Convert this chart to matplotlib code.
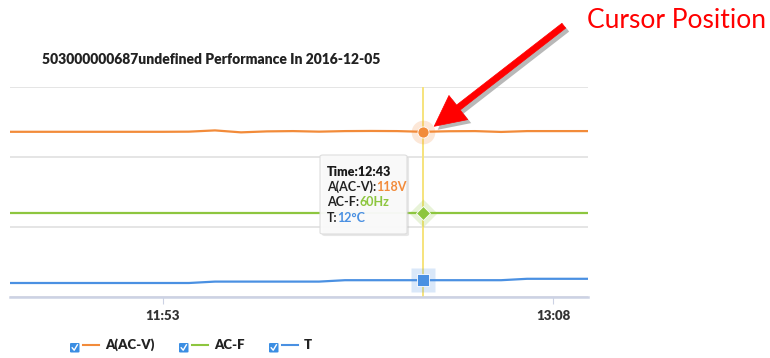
import matplotlib
matplotlib.use("Agg")
import matplotlib.pyplot as plt
import matplotlib.patheffects as pe
from matplotlib.patches import FancyBboxPatch, FancyArrowPatch
from matplotlib.lines import Line2D
from matplotlib.ticker import FixedLocator, FuncFormatter

plt.rcParams['font.family'] = ['Lato', 'DejaVu Sans']

# readings every 5 minutes
times = ["11:23", "11:28", "11:33", "11:38", "11:43", "11:48", "11:53", "11:58",
         "12:03", "12:08", "12:13", "12:18", "12:23", "12:28", "12:33", "12:38",
         "12:43", "12:48", "12:53", "12:58", "13:03", "13:08", "13:13", "13:18"]
volts = [118, 118, 118, 118, 118, 118, 118, 118.1,
         119, 117.6, 118.3, 118.5, 118.1, 118.5, 118.6, 118.5,
         118, 118.4, 118.5, 117.9, 118.5, 118.5, 118.5, 118.5]
freq = [60] * 24
temp = [10, 10, 10, 10, 10, 10, 10, 10,
        11, 11, 11, 11, 11, 12, 12, 12,
        12, 12, 12, 12, 13, 13, 13, 13]
tick_times = ["11:53", "13:08"]
cursor_time = "12:43"

series = [("A(AC-V)", volts, "#f28b3a", "o", "V"),
          ("AC-F", freq, "#8dc63f", "D", "Hz"),
          ("T", temp, "#4a90e2", "s", "°C")]

W, H = 770, 358


def to_min(s):
    h, m = s.split(":")
    return int(h) * 60 + int(m)


def fmt_min(v, pos=None):
    v = int(round(v))
    return "%d:%02d" % (v // 60, v % 60)


def px(x, y):
    return x / W, 1 - y / H


x = [to_min(t) for t in times]

fig = plt.figure(figsize=(W / 100, H / 100), dpi=100)
ax = fig.add_axes([10 / W, 1 - 297 / H, 578 / W, 210 / H])

for name, vals, c, mk, unit in series:
    ax.plot(x, vals, color=c, lw=1.6, zorder=3, solid_capstyle='butt')

ax.set_xlim(683.6, 794.7)
ax.set_ylim(0, 150)
ax.yaxis.set_major_locator(FixedLocator([0, 50, 100, 150]))
ax.grid(axis='y', color='#e3e3e3', lw=1.3)
ax.set_axisbelow(True)
ax.tick_params(axis='y', left=False, labelleft=False)
for side in ['left', 'right', 'top']:
    ax.spines[side].set_visible(False)
ax.spines['bottom'].set_color('#ccd2e4')
ax.spines['bottom'].set_linewidth(1.8)
ax.xaxis.set_major_locator(FixedLocator([to_min(t) for t in tick_times]))
ax.xaxis.set_major_formatter(FuncFormatter(fmt_min))
ax.tick_params(axis='x', length=5, width=0.8, color='#ccd2e4', labelsize=9.5,
               labelcolor='#333333', pad=4)
for lab in ax.get_xticklabels():
    lab.set_fontweight('heavy')

# crosshair and hovered points
cx = to_min(cursor_time)
ci = times.index(cursor_time)
ax.axvline(cx, color='#f6e37c', lw=1.4, zorder=2)
for name, vals, c, mk, unit in series:
    ax.plot(cx, vals[ci], mk, ms=17 if mk != 'D' else 14, color=c, alpha=0.2,
            mec='none', zorder=4)
    ax.plot(cx, vals[ci], mk, ms=8 if mk != 'D' else 7, color=c, mec='white',
            mew=0.6, zorder=5)

fig.text(*px(42, 60), "503000000687undefined Performance In 2016-12-05",
         fontsize=10, fontweight='heavy', color='#222222', va='center')

renderer = fig.canvas.get_renderer()


def put_runs(x0, y0, runs, size):
    for s, color, weight in runs:
        t = fig.text(*px(x0, y0), s, color=color, fontweight=weight,
                     fontsize=size, va='center', ha='left', zorder=12)
        x0 += t.get_window_extent(renderer).width


# tooltip
tip = FancyBboxPatch(px(320, 234), 87 / W, 79 / H, boxstyle="round,pad=0,rounding_size=0.004",
                     transform=fig.transFigure, fc='#fbfbfb', ec='#dcdcdc', lw=0.8,
                     zorder=10, alpha=0.95)
tip.set_path_effects([pe.SimplePatchShadow(offset=(1.5, -1.5), shadow_rgbFace='#bbbbbb',
                                           alpha=0.35), pe.Normal()])
fig.add_artist(tip)
put_runs(327, 172, [("Time:" + cursor_time, '#1a1a1a', 'heavy')], 9)
for k, (name, vals, c, mk, unit) in enumerate(series):
    put_runs(327, 187 + 15.3 * k,
             [(name + ":", '#222222', 'bold'), ("%g%s" % (vals[ci], unit), c, 'bold')], 9)

# legend with check boxes
legend_x = [70, 179, 269]
for lx, (name, vals, c, mk, unit) in zip(legend_x, series):
    box = FancyBboxPatch(px(lx, 352.5), 9.5 / W, 9.5 / H, boxstyle="round,pad=0,rounding_size=0.002",
                         transform=fig.transFigure, fc='#3b8ee3', ec='none')
    fig.add_artist(box)
    chk = Line2D([(lx + 2.2) / W, (lx + 4.2) / W, (lx + 7.4) / W],
                 [1 - 347.8 / H, 1 - 350.2 / H, 1 - 344.8 / H],
                 transform=fig.transFigure, color='white', lw=1.0)
    fig.add_artist(chk)
    seg = Line2D([(lx + 13) / W, (lx + 29) / W], [1 - 345 / H] * 2,
                 transform=fig.transFigure, color=c, lw=1.5)
    fig.add_artist(seg)
    fig.text(*px(lx + 35, 345), name, fontsize=9.5, fontweight='heavy',
             color='#222222', va='center')

# callout
fig.text(*px(587, 20), "Cursor Position", fontsize=19, color='#ff0000',
         va='center', ha='left')
arrow = FancyArrowPatch(px(566, 24), px(432, 128), transform=fig.transFigure,
                        arrowstyle="simple,head_length=1.1,head_width=1.1,tail_width=0.22",
                        mutation_scale=20, fc='#ff0000', ec='#ff0000', lw=0.5, zorder=20)
arrow.set_path_effects([pe.SimplePatchShadow(offset=(2.5, -2.5), shadow_rgbFace='#9a9a9a',
                                             alpha=0.7), pe.Normal()])
fig.add_artist(arrow)

fig.savefig("out.png", dpi=100)
